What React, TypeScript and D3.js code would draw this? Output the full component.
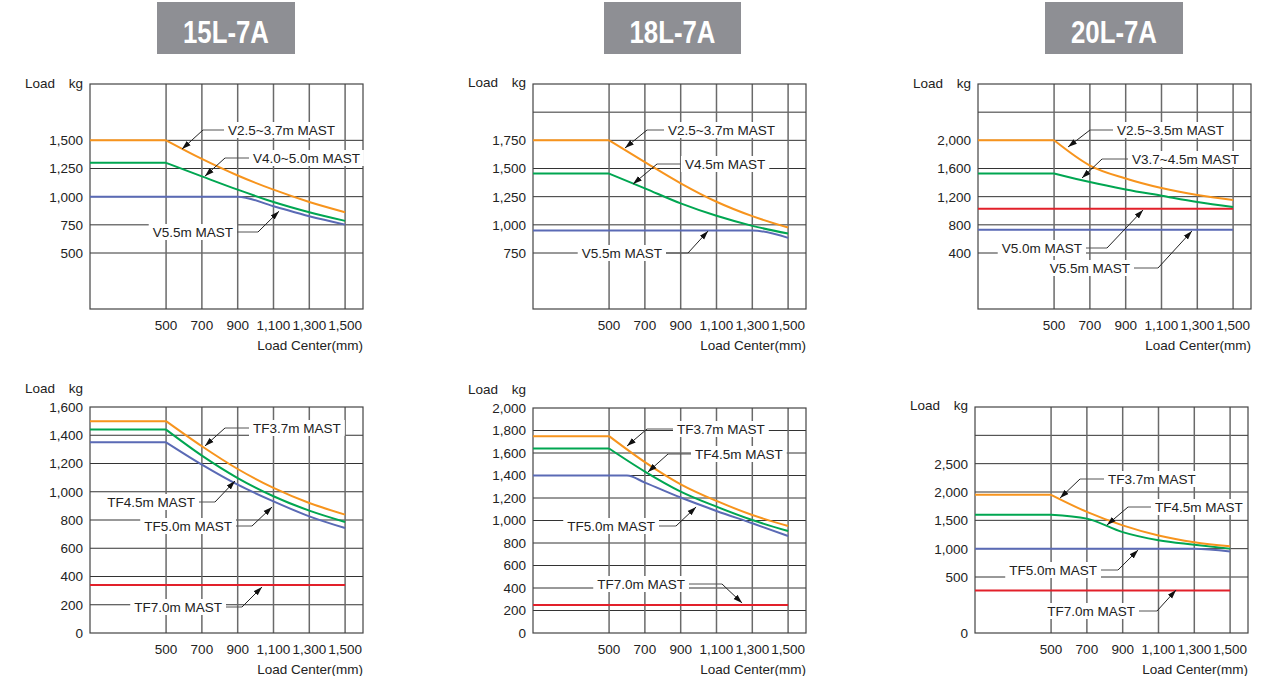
import React, { useEffect, useRef } from 'react';
import * as d3 from 'd3';

const FONT = "'Liberation Sans', Arial, Helvetica, sans-serif";

// ---------- data ----------
const modelTitles = ['15L-7A', '18L-7A', '20L-7A'];
const loadCenters = [500, 700, 900, 1100, 1300, 1500];
const loadCentersTF50_18 = [500, 600, 700, 900, 1100, 1300, 1500];
const xTickLabels = [500, 700, 900, 1100, 1300, 1500];
const X_DOMAIN = [75, 1600];

// 15L-7A, V mast
const v15_25_37 = [1500, 1335, 1188, 1062, 953, 862];
const v15_40_50 = [1300, 1180, 1062, 953, 862, 785];
const v15_55 = [1000, 1000, 1000, 915, 826, 752];
// 18L-7A, V mast
const v18_25_37 = [1750, 1557, 1369, 1205, 1077, 976];
const v18_45 = [1455, 1324, 1190, 1080, 991, 923];
const v18_55 = [950, 950, 950, 950, 950, 884];
// 20L-7A, V mast
const v20_25_35 = [2000, 1642, 1458, 1322, 1223, 1152];
const v20_37_45 = [1530, 1407, 1303, 1213, 1124, 1053];
const v20_50 = [1030, 1030, 1030, 1030, 1030, 1030];
const v20_55 = [730, 730, 730, 730, 730, 730];
// 15L-7A, TF mast
const tf15_37 = [1500, 1322, 1161, 1027, 920, 838];
const tf15_45 = [1440, 1256, 1097, 968, 866, 786];
const tf15_50 = [1350, 1192, 1050, 932, 826, 743];
const tf15_70 = [340, 340, 340, 340, 340, 340];
// 18L-7A, TF mast
const tf18_37 = [1750, 1519, 1322, 1174, 1049, 951];
const tf18_45 = [1640, 1435, 1257, 1123, 1004, 906];
const tf18_50 = [1400, 1400, 1337, 1204, 1085, 975, 862];
const tf18_70 = [250, 250, 250, 250, 250, 250];
// 20L-7A, TF mast
const tf20_37 = [1950, 1649, 1411, 1232, 1113, 1042];
const tf20_45 = [1600, 1530, 1292, 1149, 1071, 1000];
const tf20_50 = [1000, 1000, 1000, 1000, 1000, 952];
const tf20_70 = [380, 380, 380, 380, 380, 380];

// y ticks / grid
const yTicks15V = [500, 750, 1000, 1250, 1500];
const yGrid15V = [500, 750, 1000, 1250, 1500];
const yTicks18V = [750, 1000, 1250, 1500, 1750];
const yGrid18V = [750, 1000, 1250, 1500, 1750, 2000];
const yTicks20V = [400, 800, 1200, 1600, 2000];
const yGrid20V = [400, 800, 1200, 1600, 2000, 2400];
const yTicks15TF = [0, 200, 400, 600, 800, 1000, 1200, 1400, 1600];
const yGrid15TF = [200, 400, 600, 800, 1000, 1200, 1400];
const yTicks18TF = [0, 200, 400, 600, 800, 1000, 1200, 1400, 1600, 1800, 2000];
const yGrid18TF = [200, 400, 600, 800, 1000, 1200, 1400, 1600, 1800];
const yTicks20TF = [0, 500, 1000, 1500, 2000, 2500];
const yGrid20TF = [500, 1000, 1500, 2000, 2500, 3000];

// ---------- styles / layout ----------
const C = { orange: '#f7941d', green: '#00a651', blue: '#5a6ab5', red: '#e2202a' };
const PLOT_W = 273;

type Series = { xs: number[]; ys: number[]; color: string };
type Note = { text: string; anchor: 'start' | 'end'; dx: number; dy: number; elbow: number; tip: [number, number] };
type Panel = {
  left: number; top: number; bottom: number;
  yDomain: number[]; yRange: number[];
  ticks: number[]; grid: number[];
  loadDy: number;
  series: Series[]; notes: Note[];
};

const panels: Panel[] = [
  {
    left: 90, top: 84, bottom: 309, yDomain: [0, 500, 2000], yRange: [309, 253, 84],
    ticks: yTicks15V, grid: yGrid15V, loadDy: 4,
    series: [
      { xs: loadCenters, ys: v15_55, color: C.blue },
      { xs: loadCenters, ys: v15_40_50, color: C.green },
      { xs: loadCenters, ys: v15_25_37, color: C.orange },
    ],
    notes: [
      { text: 'V2.5~3.7m MAST', anchor: 'start', dx: 138, dy: 46, elbow: 113, tip: [589, 1422] },
      { text: 'V4.0~5.0m MAST', anchor: 'start', dx: 163, dy: 74, elbow: 135, tip: [717, 1182] },
      { text: 'V5.5m MAST', anchor: 'end', dx: 143, dy: 148, elbow: 168, tip: [1131, 871] },
    ],
  },
  {
    left: 533, top: 84, bottom: 309, yDomain: [0, 750, 2250], yRange: [309, 253, 84],
    ticks: yTicks18V, grid: yGrid18V, loadDy: 3,
    series: [
      { xs: loadCenters, ys: v18_55, color: C.blue },
      { xs: loadCenters, ys: v18_45, color: C.green },
      { xs: loadCenters, ys: v18_25_37, color: C.orange },
    ],
    notes: [
      { text: 'V2.5~3.7m MAST', anchor: 'start', dx: 135, dy: 46, elbow: 114, tip: [589, 1682] },
      { text: 'V4.5m MAST', anchor: 'start', dx: 152, dy: 80, elbow: 124, tip: [634, 1362] },
      { text: 'V5.5m MAST', anchor: 'end', dx: 129, dy: 169, elbow: 155, tip: [1053, 945] },
    ],
  },
  {
    left: 978, top: 84, bottom: 309, yDomain: [0, 400, 2800], yRange: [309, 253, 84],
    ticks: yTicks20V, grid: yGrid20V, loadDy: 4,
    series: [
      { xs: loadCenters, ys: v20_55, color: C.blue },
      { xs: loadCenters, ys: v20_50, color: C.red },
      { xs: loadCenters, ys: v20_37_45, color: C.green },
      { xs: loadCenters, ys: v20_25_35, color: C.orange },
    ],
    notes: [
      { text: 'V2.5~3.5m MAST', anchor: 'start', dx: 139, dy: 46, elbow: 112, tip: [578, 1906] },
      { text: 'V3.7~4.5m MAST', anchor: 'start', dx: 154, dy: 75, elbow: 124, tip: [656, 1465] },
      { text: 'V5.0m MAST', anchor: 'end', dx: 104, dy: 164, elbow: 129, tip: [997, 1011] },
      { text: 'V5.5m MAST', anchor: 'end', dx: 152, dy: 184, elbow: 180, tip: [1270, 712] },
    ],
  },
  {
    left: 90, top: 407, bottom: 633, yDomain: [0, 1600], yRange: [633, 407],
    ticks: yTicks15TF, grid: yGrid15TF, loadDy: -14,
    series: [
      { xs: loadCenters, ys: tf15_70, color: C.red },
      { xs: loadCenters, ys: tf15_50, color: C.blue },
      { xs: loadCenters, ys: tf15_45, color: C.green },
      { xs: loadCenters, ys: tf15_37, color: C.orange },
    ],
    notes: [
      { text: 'TF3.7m MAST', anchor: 'start', dx: 163, dy: 21, elbow: 135, tip: [717, 1324] },
      { text: 'TF4.5m MAST', anchor: 'end', dx: 105, dy: 95, elbow: 125, tip: [885, 1076] },
      { text: 'TF5.0m MAST', anchor: 'end', dx: 142, dy: 119, elbow: 162, tip: [1092, 892] },
      { text: 'TF7.0m MAST', anchor: 'end', dx: 132, dy: 200, elbow: 152, tip: [1036, 326] },
    ],
  },
  {
    left: 533, top: 408, bottom: 633, yDomain: [0, 2000], yRange: [633, 408],
    ticks: yTicks18TF, grid: yGrid18TF, loadDy: -14,
    series: [
      { xs: loadCenters, ys: tf18_70, color: C.red },
      { xs: loadCentersTF50_18, ys: tf18_50, color: C.blue },
      { xs: loadCenters, ys: tf18_45, color: C.green },
      { xs: loadCenters, ys: tf18_37, color: C.orange },
    ],
    notes: [
      { text: 'TF3.7m MAST', anchor: 'start', dx: 144, dy: 21, elbow: 114, tip: [600, 1662] },
      { text: 'TF4.5m MAST', anchor: 'start', dx: 162, dy: 46, elbow: 135, tip: [717, 1431] },
      { text: 'TF5.0m MAST', anchor: 'end', dx: 122, dy: 118, elbow: 143, tip: [986, 1120] },
      { text: 'TF7.0m MAST', anchor: 'end', dx: 152, dy: 176, elbow: 189, tip: [1243, 267] },
    ],
  },
  {
    left: 975, top: 407, bottom: 633, yDomain: [0, 500, 3500], yRange: [633, 577, 407],
    ticks: yTicks20TF, grid: yGrid20TF, loadDy: 3,
    series: [
      { xs: loadCenters, ys: tf20_70, color: C.red },
      { xs: loadCenters, ys: tf20_50, color: C.blue },
      { xs: loadCenters, ys: tf20_45, color: C.green },
      { xs: loadCenters, ys: tf20_37, color: C.orange },
    ],
    notes: [
      { text: 'TF3.7m MAST', anchor: 'start', dx: 133, dy: 72, elbow: 105, tip: [550, 1893] },
      { text: 'TF4.5m MAST', anchor: 'start', dx: 180, dy: 100, elbow: 153, tip: [812, 1417] },
      { text: 'TF5.0m MAST', anchor: 'end', dx: 122, dy: 163, elbow: 143, tip: [986, 976] },
      { text: 'TF7.0m MAST', anchor: 'end', dx: 160, dy: 204, elbow: 182, tip: [1198, 384] },
    ],
  },
];

const titleBoxes = [
  { x: 157, w: 138 },
  { x: 604, w: 137 },
  { x: 1045, w: 138 },
];

const FS = 13.5;

export default function App() {
  const ref = useRef<SVGSVGElement>(null);

  useEffect(() => {
    const svg = d3.select(ref.current);
    svg.selectAll('*').remove();

    const defs = svg.append('defs');
    defs.append('marker')
      .attr('id', 'ah')
      .attr('viewBox', '0 0 10 10')
      .attr('refX', 10).attr('refY', 5)
      .attr('markerWidth', 9).attr('markerHeight', 9)
      .attr('markerUnits', 'userSpaceOnUse')
      .attr('orient', 'auto')
      .append('path').attr('d', 'M0,1.8 L10,5 L0,8.2 Z').attr('fill', '#111');

    // titles
    titleBoxes.forEach((b, i) => {
      svg.append('rect').attr('x', b.x).attr('y', 2).attr('width', b.w).attr('height', 52).attr('fill', '#8e8f94');
      svg.append('text').attr('x', b.x + b.w / 2).attr('y', 43)
        .attr('text-anchor', 'middle').attr('fill', '#fff')
        .attr('font-family', FONT).attr('font-weight', 'bold').attr('font-size', 31)
        .attr('textLength', 86).attr('lengthAdjust', 'spacingAndGlyphs')
        .text(modelTitles[i]);
    });

    const fmt = d3.format(',');

    panels.forEach((p) => {
      const g = svg.append('g');
      const right = p.left + PLOT_W;
      const x = d3.scaleLinear().domain(X_DOMAIN).range([p.left, right]);
      const y = d3.scaleLinear().domain(p.yDomain).range(p.yRange);

      // horizontal grid
      g.selectAll('line.h').data(p.grid).join('line')
        .attr('x1', p.left).attr('x2', right)
        .attr('y1', (d) => y(d)).attr('y2', (d) => y(d))
        .attr('stroke', '#333').attr('stroke-width', 1);
      // vertical grid
      g.selectAll('line.v').data(xTickLabels).join('line')
        .attr('x1', (d) => x(d)).attr('x2', (d) => x(d))
        .attr('y1', p.top).attr('y2', p.bottom)
        .attr('stroke', '#6a6a6a').attr('stroke-width', 1.5);
      // border
      g.append('rect').attr('x', p.left).attr('y', p.top)
        .attr('width', PLOT_W).attr('height', p.bottom - p.top)
        .attr('fill', 'none').attr('stroke', '#444').attr('stroke-width', 1.2);

      // series
      const curve = d3.line<[number, number]>()
        .x((d) => x(d[0])).y((d) => y(d[1]))
        .curve(d3.curveMonotoneX);
      p.series.forEach((s) => {
        const pts: [number, number][] = s.xs.map((xv, i) => [xv, s.ys[i]]);
        const flat = `M${x(X_DOMAIN[0])},${y(s.ys[0])}L${x(s.xs[0])},${y(s.ys[0])}`;
        g.append('path').attr('d', flat + (curve(pts) || ''))
          .attr('fill', 'none').attr('stroke', s.color).attr('stroke-width', 2)
          .attr('stroke-linejoin', 'round');
      });

      // notes
      p.notes.forEach((n) => {
        const ng = g.append('g');
        const tx = p.left + n.dx;
        const ty = p.top + n.dy;
        const rect = ng.append('rect').attr('fill', '#fff');
        const t = ng.append('text').attr('x', tx).attr('y', ty).attr('dy', '0.36em')
          .attr('text-anchor', n.anchor).attr('font-family', FONT).attr('font-size', FS)
          .attr('fill', '#222').text(n.text);
        const bb = (t.node() as SVGTextElement).getBBox();
        const pad = 4;
        rect.attr('x', bb.x - pad).attr('y', ty - 8).attr('width', bb.width + 2 * pad).attr('height', 16);
        const edge = n.anchor === 'start' ? bb.x - pad : bb.x + bb.width + pad;
        const ex = p.left + n.elbow;
        ng.append('line').attr('x1', edge).attr('x2', ex).attr('y1', ty).attr('y2', ty)
          .attr('stroke', '#555').attr('stroke-width', 1);
        ng.append('line').attr('x1', ex).attr('y1', ty)
          .attr('x2', x(n.tip[0])).attr('y2', y(n.tip[1]))
          .attr('stroke', '#222').attr('stroke-width', 1)
          .attr('marker-end', 'url(#ah)');
      });

      // y tick labels
      g.selectAll('text.yt').data(p.ticks).join('text')
        .attr('x', p.left - 7).attr('y', (d) => y(d)).attr('dy', '0.36em')
        .attr('text-anchor', 'end').attr('font-family', FONT).attr('font-size', FS)
        .attr('fill', '#222')
        .text((d) => fmt(d));
      // x tick labels
      g.selectAll('text.xt').data(xTickLabels).join('text')
        .attr('x', (d) => x(d)).attr('y', p.bottom + 20.5)
        .attr('text-anchor', 'middle').attr('font-family', FONT).attr('font-size', FS)
        .attr('fill', '#222')
        .text((d) => fmt(d));
      // axis titles
      g.append('text').attr('x', right).attr('y', p.bottom + 41)
        .attr('text-anchor', 'end').attr('font-family', FONT).attr('font-size', FS)
        .attr('fill', '#222').text('Load Center(mm)');
      g.append('text').attr('x', p.left - 7).attr('y', p.top + p.loadDy)
        .attr('text-anchor', 'end').attr('font-family', FONT).attr('font-size', FS)
        .attr('fill', '#222').text('kg');
      g.append('text').attr('x', p.left - 35).attr('y', p.top + p.loadDy)
        .attr('text-anchor', 'end').attr('font-family', FONT).attr('font-size', FS)
        .attr('fill', '#222').text('Load');
    });
  }, []);

  return (
    <svg
      ref={ref}
      width={1271}
      height={676}
      style={{ position: 'absolute', left: 0, top: 0, background: '#fff', display: 'block' }}
    />
  );
}
